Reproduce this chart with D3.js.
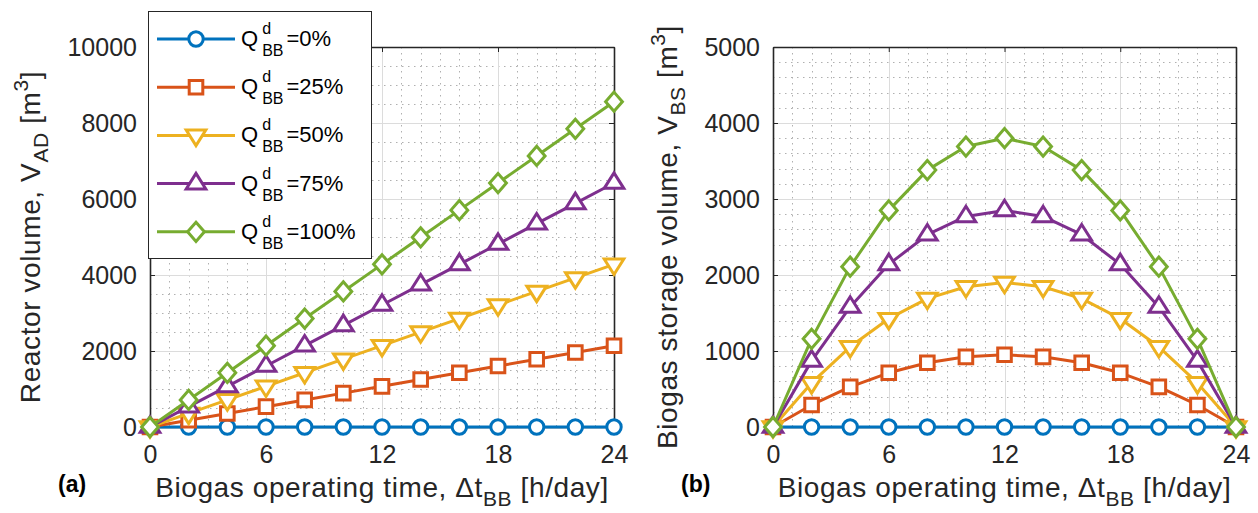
<!DOCTYPE html>
<html lang="en">
<head>
    <meta charset="UTF-8">
    <title>Reactor and biogas storage volume</title>
    <script src="https://cdn.jsdelivr.net/npm/d3@7"></script>
    <style>
        body { margin: 0; background: #fff; }
        svg { display: block; font-family: "Liberation Sans", Arial, sans-serif; }
        .axis text { fill: #262626; }
        .axis path, .axis line { stroke: #262626; }
    </style>
</head>
<body>
<script>
    // operating time (h/day)
    var hours = [0, 2, 4, 6, 8, 10, 12, 14, 16, 18, 20, 22, 24];
    var shares = ['0%', '25%', '50%', '75%', '100%'];

    // (a) reactor volume V_AD [m3]
    var adQ0 = [0, 0, 0, 0, 0, 0, 0, 0, 0, 0, 0, 0, 0];
    var adQ25 = [0, 178, 357, 535, 713, 892, 1070, 1249, 1427, 1605, 1784, 1962, 2140];
    var adQ50 = [0, 357, 713, 1070, 1427, 1784, 2140, 2497, 2853, 3210, 3567, 3923, 4280];
    var adQ75 = [0, 535, 1070, 1605, 2140, 2675, 3210, 3745, 4280, 4815, 5350, 5885, 6420];
    var adQ100 = [0, 713, 1427, 2140, 2853, 3567, 4280, 4993, 5707, 6420, 7133, 7847, 8560];

    // (b) biogas storage volume V_BS [m3]
    var bsQ0 = [0, 0, 0, 0, 0, 0, 0, 0, 0, 0, 0, 0, 0];
    var bsQ25 = [0, 290, 528, 713, 845, 923, 950, 923, 845, 713, 528, 290, 0];
    var bsQ50 = [0, 580, 1055, 1425, 1690, 1845, 1900, 1845, 1690, 1425, 1055, 580, 0];
    var bsQ75 = [0, 870, 1580, 2140, 2530, 2770, 2850, 2770, 2530, 2140, 1580, 870, 0];
    var bsQ100 = [0, 1160, 2110, 2850, 3380, 3690, 3800, 3690, 3380, 2850, 2110, 1160, 0];

    var xTicks = [0, 6, 12, 18, 24];
    var adTicks = [0, 2000, 4000, 6000, 8000, 10000];
    var bsTicks = [0, 1000, 2000, 3000, 4000, 5000];

    var colors = ['#0072BD', '#D95319', '#EDB120', '#7E2F8E', '#77AC30'];
    var markers = ['circle', 'square', 'down', 'up', 'diamond'];

    var width = 1258, height = 513;
    var plotTop = 47, plotBottom = 427;
    var fontFam = '"Liberation Sans", Arial, sans-serif';
    var lw = 3;

    var svg = d3.select('body').append('svg')
        .attr('width', width)
        .attr('height', height);

    // marker path centred on 0,0
    function markerPath(type) {
        if (type === 'square') return 'M-6.8,-6.8H6.8V6.8H-6.8Z';
        if (type === 'down') return 'M-9.8,-5.3H9.8L0,10.2Z';
        if (type === 'up') return 'M-9.8,5.3H9.8L0,-10.2Z';
        if (type === 'diamond') return 'M0,-9.6L8.4,0L0,9.6L-8.4,0Z';
        return null;
    }

    function drawMarker(g, type, color, x, y) {
        if (type === 'circle') {
            g.append('circle').attr('cx', x).attr('cy', y).attr('r', 7.2)
                .attr('fill', '#fff').attr('stroke', color).attr('stroke-width', lw);
        } else {
            g.append('path').attr('d', markerPath(type))
                .attr('transform', 'translate(' + x + ',' + y + ')')
                .attr('fill', '#fff').attr('stroke', color).attr('stroke-width', lw)
                .attr('stroke-linejoin', 'miter');
        }
    }

    function panel(opts) {
        var x = d3.scaleLinear().domain([0, 24]).range([opts.left, opts.right]);
        var y = d3.scaleLinear().domain([0, opts.ymax]).range([plotBottom, plotTop]);
        var g = svg.append('g');

        // minor grid (dotted)
        var minorX = d3.range(1, 24).filter(function(v) { return v % 6 !== 0; });
        var minorY = d3.range(opts.minor, opts.ymax, opts.minor).filter(function(v) { return v % opts.major !== 0; });
        g.selectAll('.mx').data(minorX).enter().append('line')
            .attr('x1', function(d) { return Math.round(x(d)) + 0.5; })
            .attr('x2', function(d) { return Math.round(x(d)) + 0.5; })
            .attr('y1', plotTop).attr('y2', plotBottom)
            .attr('stroke', '#b0b0b0').attr('stroke-dasharray', '1.5,4.5');
        g.selectAll('.my').data(minorY).enter().append('line')
            .attr('y1', function(d) { return Math.round(y(d)) + 0.5; })
            .attr('y2', function(d) { return Math.round(y(d)) + 0.5; })
            .attr('x1', opts.left).attr('x2', opts.right)
            .attr('stroke', '#b0b0b0').attr('stroke-dasharray', '1.5,4.5');

        // major grid
        g.selectAll('.gx').data(xTicks.slice(1, -1)).enter().append('line')
            .attr('x1', function(d) { return Math.round(x(d)) + 0.5; })
            .attr('x2', function(d) { return Math.round(x(d)) + 0.5; })
            .attr('y1', plotTop).attr('y2', plotBottom)
            .attr('stroke', '#dcdcdc');
        g.selectAll('.gy').data(opts.ticks.slice(1, -1)).enter().append('line')
            .attr('y1', function(d) { return Math.round(y(d)) + 0.5; })
            .attr('y2', function(d) { return Math.round(y(d)) + 0.5; })
            .attr('x1', opts.left).attr('x2', opts.right)
            .attr('stroke', '#dcdcdc');

        // axes, ticks pointing inward
        var fmt = d3.format('d');
        g.append('g').attr('class', 'axis')
            .attr('transform', 'translate(0,' + plotBottom + ')')
            .call(d3.axisBottom(x).tickValues(xTicks).tickFormat(fmt).tickSizeInner(-5).tickSizeOuter(0).tickPadding(18))
            .call(function(a) { a.selectAll('text').attr('font-size', 25).attr('font-family', fontFam); });
        g.append('g').attr('class', 'axis')
            .attr('transform', 'translate(' + opts.left + ',0)')
            .call(d3.axisLeft(y).tickValues(opts.ticks).tickFormat(fmt).tickSizeInner(-5).tickSizeOuter(0).tickPadding(13))
            .call(function(a) { a.selectAll('text').attr('font-size', 25).attr('font-family', fontFam); });
        g.append('g').attr('class', 'axis')
            .attr('transform', 'translate(0,' + plotTop + ')')
            .call(d3.axisTop(x).tickValues(xTicks).tickSizeInner(-5).tickSizeOuter(0).tickFormat(''));
        g.append('g').attr('class', 'axis')
            .attr('transform', 'translate(' + opts.right + ',0)')
            .call(d3.axisRight(y).tickValues(opts.ticks).tickSizeInner(-5).tickSizeOuter(0).tickFormat(''));
        g.selectAll('.axis path').attr('stroke-width', 1.6);

        // series
        var line = d3.line()
            .x(function(d, i) { return x(hours[i]); })
            .y(function(d) { return y(d); });
        opts.series.forEach(function(vals, s) {
            var sg = g.append('g');
            sg.append('path').datum(vals)
                .attr('d', line)
                .attr('fill', 'none')
                .attr('stroke', colors[s])
                .attr('stroke-width', lw)
                .attr('stroke-linejoin', 'round');
            vals.forEach(function(v, i) {
                drawMarker(sg, markers[s], colors[s], x(hours[i]), y(v));
            });
        });

        // y label
        var cx = (opts.left + opts.right) / 2;
        var yl = g.append('text')
            .attr('transform', 'translate(' + opts.ylabX + ',' + (plotTop + plotBottom) / 2 + ') rotate(-90)')
            .attr('text-anchor', 'middle')
            .attr('letter-spacing', 0.6)
            .attr('font-size', 28).attr('fill', '#262626');
        yl.append('tspan').text(opts.ylab);
        yl.append('tspan').attr('font-size', 21).attr('dy', 8).text(opts.ysub);
        yl.append('tspan').attr('dy', -8).text(' [m');
        yl.append('tspan').attr('font-size', 21).attr('dy', -12).text('3');
        yl.append('tspan').attr('dy', 12).text(']');

        // x label
        var xl = g.append('text')
            .attr('x', cx).attr('y', 497)
            .attr('text-anchor', 'middle')
            .attr('letter-spacing', 0.6)
            .attr('font-size', 28).attr('fill', '#262626');
        xl.append('tspan').text('Biogas operating time, \u0394t');
        xl.append('tspan').attr('font-size', 21).attr('dy', 9).text('BB');
        xl.append('tspan').attr('dy', -9).text(' [h/day]');

        // panel tag
        g.append('text').attr('x', opts.tagX).attr('y', 492)
            .attr('font-size', 23).attr('font-weight', 'bold').attr('fill', '#000')
            .text(opts.tag);
    }

    panel({
        left: 150, right: 614, ymax: 10000, ticks: adTicks, major: 2000, minor: 500,
        series: [adQ0, adQ25, adQ50, adQ75, adQ100],
        ylab: 'Reactor volume, V', ysub: 'AD', ylabX: 40, tag: '(a)', tagX: 58
    });
    panel({
        left: 773, right: 1236, ymax: 5000, ticks: bsTicks, major: 1000, minor: 200,
        series: [bsQ0, bsQ25, bsQ50, bsQ75, bsQ100],
        ylab: 'Biogas storage volume, V', ysub: 'BS', ylabX: 677, tag: '(b)', tagX: 681
    });

    // legend (drawn over panel a)
    var lg = svg.append('g');
    lg.append('rect').attr('x', 148.5).attr('y', 11.5).attr('width', 223).attr('height', 247)
        .attr('fill', '#fff').attr('stroke', '#262626').attr('stroke-width', 1);
    shares.forEach(function(lab, i) {
        var ly = 39 + i * 48.2;
        var row = lg.append('g');
        row.append('line').attr('x1', 157).attr('x2', 235).attr('y1', ly).attr('y2', ly)
            .attr('stroke', colors[i]).attr('stroke-width', lw);
        drawMarker(row, markers[i], colors[i], 196, ly);
        var q = row.append('text').attr('x', 241).attr('y', ly + 7)
            .attr('font-size', 22).attr('fill', '#000').text('Q');
        var qx = 241 + q.node().getComputedTextLength() + 4;
        row.append('text').attr('x', qx).attr('y', ly - 5)
            .attr('font-size', 16).attr('fill', '#000').text('d');
        var bb = row.append('text').attr('x', qx).attr('y', ly + 17)
            .attr('font-size', 16).attr('fill', '#000').text('BB');
        var ex = qx + bb.node().getComputedTextLength() + 3;
        row.append('text').attr('x', ex).attr('y', ly + 7)
            .attr('font-size', 22).attr('fill', '#000').text('=' + lab);
    });
</script>
</body>
</html>
